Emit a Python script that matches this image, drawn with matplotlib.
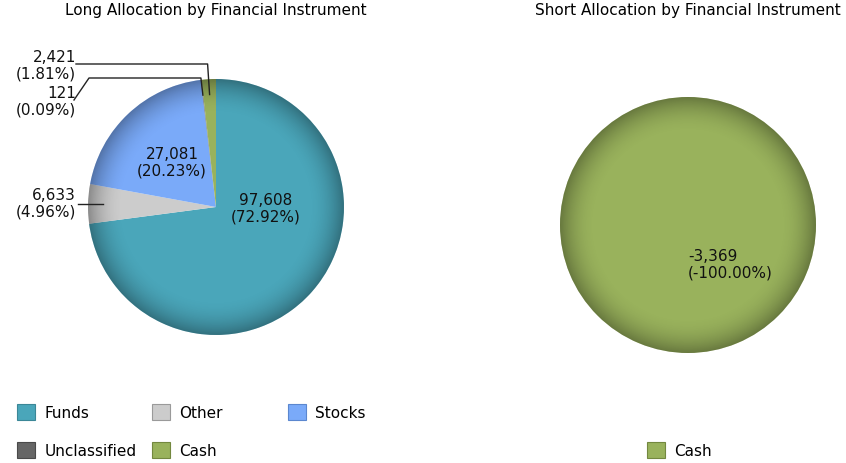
import numpy as np
import matplotlib
matplotlib.use("Agg")
import matplotlib.pyplot as plt
from matplotlib.patches import Circle, Patch

# data
long_labels = ["Funds", "Other", "Stocks", "Unclassified", "Cash"]
long_values = [97608, 6633, 27081, 121, 2421]
long_colors = ["#4aa6ba", "#cccccc", "#7aaaf9", "#666666", "#99b25c"]
long_edges = ["#3b8797", "#9a9a9a", "#5b87cf", "#4a4a4a", "#73883f"]

short_labels = ["Cash"]
short_values = [-3369]
short_colors = ["#99b25c"]
short_edges = ["#73883f"]

W, H = 846, 464
FS = 11


def py(y):
    # pixel row -> data y
    return H - y


def shade(ax, cx, cy, r):
    # soft darkening towards the rim
    n = 400
    yy, xx = np.mgrid[-1:1:n * 1j, -1:1:n * 1j]
    rr = np.hypot(xx, yy)
    a = np.clip((rr - 0.72) / 0.28, 0, 1) ** 2 * 0.32
    img = np.zeros((n, n, 4))
    img[..., 3] = a
    im = ax.imshow(img, extent=[cx - r, cx + r, cy - r, cy + r], zorder=3,
                   interpolation="bilinear")
    im.set_clip_path(Circle((cx, cy), r, transform=ax.transData))


fig = plt.figure(figsize=(W / 100, H / 100), dpi=100)
ax = fig.add_axes([0, 0, 1, 1])

# long pie
lcx, lcy, R = 216, py(208), 128
wedges, _ = ax.pie(long_values, colors=long_colors, center=(lcx, lcy), radius=R,
                   startangle=90, counterclock=False,
                   wedgeprops=dict(linewidth=0))
shade(ax, lcx, lcy, R)

total = sum(long_values)
txt = [f"{v:,}\n({v / total * 100:.2f}%)" for v in long_values]


def edge_pt(w, f=0.88):
    t = np.deg2rad((w.theta1 + w.theta2) / 2)
    return lcx + f * R * np.cos(t), lcy + f * R * np.sin(t)


# inside labels
ax.text(lcx + 50, lcy - 1, txt[0], ha="center", va="center", fontsize=FS, zorder=5,
        linespacing=1.1, color="#111111")
ax.text(lcx - 44, lcy + 45, txt[2], ha="center", va="center", fontsize=FS, zorder=5,
        linespacing=1.1, color="#111111")

# outside labels with leader lines
ax.text(76, py(204), txt[1], ha="right", va="center", fontsize=FS, zorder=5,
        linespacing=1.1, color="#111111")
x0, y0 = edge_pt(wedges[1])
ax.plot([78, x0], [py(205), py(205)], color="#222222", lw=1, zorder=5)

ax.text(76, py(102), txt[3], ha="right", va="center", fontsize=FS, zorder=5,
        linespacing=1.1, color="#111111")
x0, y0 = edge_pt(wedges[3])
ax.plot([74, 89, x0 - 2, x0], [py(101), py(79), py(79), y0], color="#222222",
        lw=1, zorder=5)

ax.text(76, py(66), txt[4], ha="right", va="center", fontsize=FS, zorder=5,
        linespacing=1.1, color="#111111")
x0, y0 = edge_pt(wedges[4])
ax.plot([76, x0 - 2, x0], [py(65), py(65), y0], color="#222222", lw=1, zorder=5)

# short pie
scx, scy = 688, py(226)
ax.pie([abs(v) for v in short_values], colors=short_colors, center=(scx, scy),
       radius=R, startangle=90, counterclock=False, wedgeprops=dict(linewidth=0))
shade(ax, scx, scy, R)
ax.text(scx, scy - 39, f"{short_values[0]:,}\n(-100.00%)", ha="left", va="center",
        fontsize=FS, zorder=5, linespacing=1.1, color="#111111")

ax.set_xlim(0, W)
ax.set_ylim(0, H)
ax.set_aspect("auto")
ax.axis("off")

fig.text(216 / W, 1 - 11 / H, "Long Allocation by Financial Instrument",
         ha="center", va="center", fontsize=FS)
fig.text(688 / W, 1 - 11 / H, "Short Allocation by Financial Instrument",
         ha="center", va="center", fontsize=FS)

# legends
hl = 18 / (FS * 100 / 72)
spots = [(17, 413), (152, 413), (288, 413), (17, 451), (152, 451)]
for lab, fc, ec, (x, y) in zip(long_labels, long_colors, long_edges, spots):
    fig.legend([Patch(facecolor=fc, edgecolor=ec, linewidth=0.8)], [lab],
               loc="center left", bbox_to_anchor=(x / W, 1 - y / H),
               frameon=False, fontsize=FS, handlelength=hl, handleheight=hl,
               handletextpad=0.6, borderpad=0, borderaxespad=0)
fig.legend([Patch(facecolor=short_colors[0], edgecolor=short_edges[0], linewidth=0.8)],
           short_labels, loc="center left", bbox_to_anchor=(647 / W, 1 - 451 / H),
           frameon=False, fontsize=FS, handlelength=hl, handleheight=hl,
           handletextpad=0.6, borderpad=0, borderaxespad=0)

fig.savefig("out.png", dpi=100)
